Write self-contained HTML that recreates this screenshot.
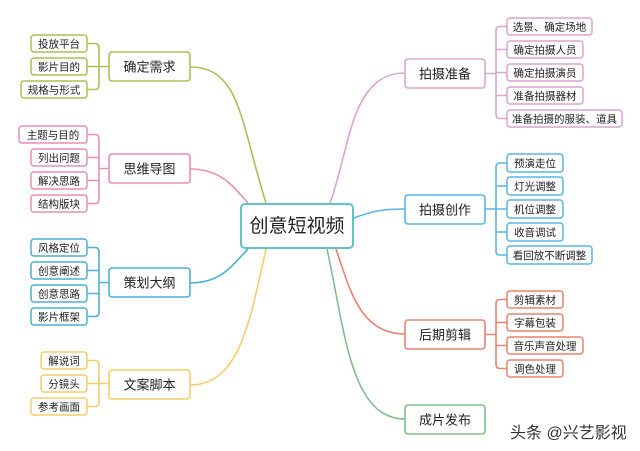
<!DOCTYPE html>
<html><head><meta charset="utf-8"><style>
html,body{margin:0;padding:0;background:#fff;}
svg{display:block;}
text{font-family:"Liberation Sans","Noto Sans CJK SC",sans-serif;fill:#222;}
.l{font-size:10.5px;}
.m{font-size:13px;}
</style></head><body>
<svg width="640" height="451" viewBox="0 0 640 451" xmlns="http://www.w3.org/2000/svg">
<g fill="none" stroke-width="1.6">
<!-- main curves -->
<path d="M190,67 C240,67 240,120 266,203" stroke="#a8c256"/>
<path d="M190,169 C220,169 232,185 248,203" stroke="#ea8fb2"/>
<path d="M190,283 C222,283 232,265 248,249" stroke="#4fb0cf"/>
<path d="M190,385 C240,385 250,320 266,249" stroke="#f5cd68"/>
<path d="M405,73 C350,73 350,150 330,203" stroke="#dca4d2"/>
<path d="M405,209 C380,209 370,212 354,218" stroke="#5ab6e4"/>
<path d="M405,334 C360,334 350,290 336,249" stroke="#e8846f"/>
<path d="M405,419 C350,419 345,330 327,249" stroke="#82bf8e"/>
<!-- left brackets -->
<g stroke="#a8c256"><path d="M87,43.5 H95 Q99,43.5 99,47.5 V85.5 Q99,89.5 95,89.5 H87 M87,66.5 H109"/></g>
<g stroke="#ea8fb2"><path d="M87,134.5 H95 Q99,134.5 99,138.5 V199.5 Q99,203.5 95,203.5 H87 M87,157.5 H99 M87,180.5 H99 M99,168.5 H109"/></g>
<g stroke="#4fb0cf"><path d="M87,247.5 H95 Q99,247.5 99,251.5 V312.5 Q99,316.5 95,316.5 H87 M87,270.5 H99 M87,293.5 H99 M99,282.5 H109"/></g>
<g stroke="#f5cd68"><path d="M87,360.5 H95 Q99,360.5 99,364.5 V402.5 Q99,406.5 95,406.5 H87 M87,383.5 H109"/></g>
<!-- right brackets -->
<g stroke="#dca4d2"><path d="M507,26.5 H500 Q496,26.5 496,30.5 V114.5 Q496,118.5 500,118.5 H507 M507,49.5 H496 M507,72.5 H496 M507,95.5 H496 M485,73.5 H496"/></g>
<g stroke="#5ab6e4"><path d="M507,163 H500 Q496,163 496,167 V251 Q496,255 500,255 H507 M507,186 H496 M507,209 H496 M507,232 H496 M485,209 H496"/></g>
<g stroke="#e8846f"><path d="M507,299.5 H500 Q496,299.5 496,303.5 V364.5 Q496,368.5 500,368.5 H507 M507,322.5 H496 M507,345.5 H496 M485,334.5 H496"/></g>
</g>
<!-- center -->
<rect x="241" y="204" width="112" height="44" rx="4" fill="#fff" stroke="#5ec4c8" stroke-width="2"/>
<text x="297" y="232" text-anchor="middle" style="font-size:19px">创意短视频</text>
<!-- level1 -->
<g fill="#fff" stroke-width="1.6">
<rect x="109" y="52" width="81" height="29" rx="3" stroke="#a8c256"/>
<rect x="109" y="154" width="81" height="29" rx="3" stroke="#ea8fb2"/>
<rect x="109" y="268" width="81" height="29" rx="3" stroke="#4fb0cf"/>
<rect x="109" y="370" width="81" height="29" rx="3" stroke="#f5cd68"/>
<rect x="405" y="59" width="80" height="29" rx="3" stroke="#dca4d2"/>
<rect x="405" y="195" width="80" height="29" rx="3" stroke="#5ab6e4"/>
<rect x="405" y="320" width="80" height="29" rx="3" stroke="#e8846f"/>
<rect x="405" y="405" width="80" height="29" rx="3" stroke="#82bf8e"/>
</g>
<g class="m" text-anchor="middle">
<text x="149.5" y="71.5">确定需求</text>
<text x="149.5" y="173.5">思维导图</text>
<text x="149.5" y="287.5">策划大纲</text>
<text x="149.5" y="389.5">文案脚本</text>
<text x="445" y="78.5">拍摄准备</text>
<text x="445" y="214.5">拍摄创作</text>
<text x="445" y="339.5">后期剪辑</text>
<text x="445" y="424.5">成片发布</text>
</g>
<!-- leaves -->
<g fill="#fff" stroke-width="1.5">
<g stroke="#a8c256">
<rect x="31" y="35" width="56" height="17" rx="3"/><rect x="31" y="58" width="56" height="17" rx="3"/><rect x="21" y="81" width="66" height="17" rx="3"/>
</g>
<g stroke="#ea8fb2">
<rect x="19" y="126" width="68" height="17" rx="3"/><rect x="31" y="149" width="56" height="17" rx="3"/><rect x="31" y="172" width="56" height="17" rx="3"/><rect x="31" y="195" width="56" height="17" rx="3"/>
</g>
<g stroke="#4fb0cf">
<rect x="31" y="239" width="56" height="17" rx="3"/><rect x="31" y="262" width="56" height="17" rx="3"/><rect x="31" y="285" width="56" height="17" rx="3"/><rect x="31" y="308" width="56" height="17" rx="3"/>
</g>
<g stroke="#f5cd68">
<rect x="41" y="352" width="46" height="17" rx="3"/><rect x="41" y="375" width="46" height="17" rx="3"/><rect x="31" y="398" width="56" height="17" rx="3"/>
</g>
<g stroke="#dca4d2">
<rect x="507" y="18" width="85" height="17" rx="3"/><rect x="507" y="41" width="76" height="17" rx="3"/><rect x="507" y="64" width="76" height="17" rx="3"/><rect x="507" y="87" width="76" height="17" rx="3"/><rect x="507" y="110" width="115" height="17" rx="3"/>
</g>
<g stroke="#5ab6e4">
<rect x="507" y="154" width="56" height="18" rx="3"/><rect x="507" y="177" width="56" height="18" rx="3"/><rect x="507" y="200" width="56" height="18" rx="3"/><rect x="507" y="223" width="56" height="18" rx="3"/><rect x="507" y="246" width="85" height="18" rx="3"/>
</g>
<g stroke="#e8846f">
<rect x="507" y="291" width="56" height="17" rx="3"/><rect x="507" y="314" width="56" height="17" rx="3"/><rect x="507" y="337" width="76" height="17" rx="3"/><rect x="507" y="360" width="56" height="17" rx="3"/>
</g>
</g>
<g class="l" text-anchor="middle">
<text x="59" y="47.5">投放平台</text><text x="59" y="70.5">影片目的</text><text x="54" y="93.5">规格与形式</text>
<text x="53" y="138.5">主题与目的</text><text x="59" y="161.5">列出问题</text><text x="59" y="184.5">解决思路</text><text x="59" y="207.5">结构版块</text>
<text x="59" y="251.5">风格定位</text><text x="59" y="274.5">创意阐述</text><text x="59" y="297.5">创意思路</text><text x="59" y="320.5">影片框架</text>
<text x="64" y="364.5">解说词</text><text x="64" y="387.5">分镜头</text><text x="59" y="410.5">参考画面</text>
<text x="549.5" y="30.5">选景、确定场地</text><text x="545" y="53.5">确定拍摄人员</text><text x="545" y="76.5">确定拍摄演员</text><text x="545" y="99.5">准备拍摄器材</text><text x="564.5" y="122.5">准备拍摄的服装、道具</text>
<text x="535" y="167">预演走位</text><text x="535" y="190">灯光调整</text><text x="535" y="213">机位调整</text><text x="535" y="236">收音调试</text><text x="549.5" y="259">看回放不断调整</text>
<text x="535" y="303.5">剪辑素材</text><text x="535" y="326.5">字幕包装</text><text x="545" y="349.5">音乐声音处理</text><text x="535" y="372.5">调色处理</text>
</g>
<text x="510" y="438" style="font-size:16px;fill:#333">头条 @兴艺影视</text>
</svg>
</body></html>
